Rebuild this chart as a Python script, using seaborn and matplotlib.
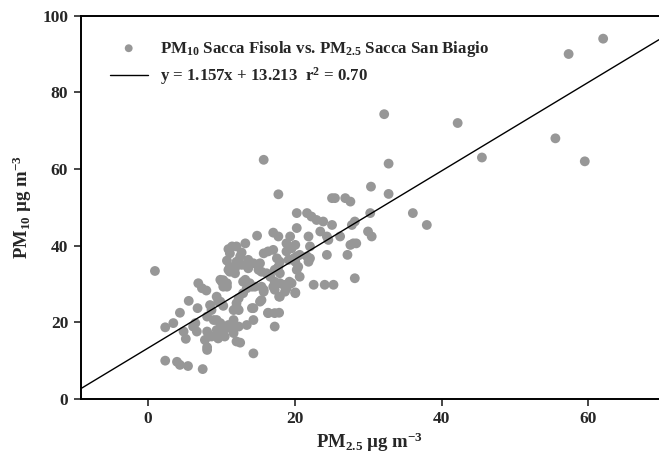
import numpy as np
import pandas as pd
import matplotlib
matplotlib.use("Agg")
import matplotlib.pyplot as plt
import seaborn as sns

# PM2.5 Sacca San Biagio (x) and PM10 Sacca Fisola (y)
pm25 = [
    1.0, 62.0, 57.3, 55.5, 59.5, 45.5, 42.2, 38.0, 36.1, 32.2, 32.8, 32.8, 30.4, 30.3, 30.0, 30.5,
    15.8, 17.8, 25.1, 25.5, 26.9, 27.6, 28.2, 27.8, 28.0, 28.4, 27.2, 28.2, 22.6, 24.1, 25.3,
    20.3, 21.7, 22.3, 23.0, 23.9, 25.1, 20.3, 23.5, 24.4, 24.6, 26.2, 21.9, 19.4, 18.9, 20.1,
    19.6, 22.1, 27.6,
    14.9, 17.1, 17.8, 13.3, 11.0, 11.2, 12.8, 10.8, 11.2, 11.0, 12.1, 12.8, 13.7, 14.4, 15.1,
    15.5, 15.8, 16.4, 17.1, 17.6, 18.0, 17.8, 17.3, 18.9, 20.1, 11.9, 11.2, 11.9, 12.1,
    20.3, 20.7, 19.9, 22.1, 21.9, 24.4, 20.5, 20.3, 20.7, 21.7,
    12.6, 12.4, 13.3, 13.7, 15.3, 16.2, 16.7, 18.0, 19.2, 11.5,
    6.9, 7.4, 8.0, 10.1, 10.8, 10.3, 10.3, 10.8, 13.0, 14.2, 15.5, 17.3, 18.5, 19.3, 18.9,
    18.7, 20.1, 17.9, 17.3, 15.8, 15.5, 16.4, 17.9, 14.4,
    8.5, 8.7, 9.4, 9.9, 12.1, 12.4, 9.6, 10.3, 11.7, 12.1, 12.4, 13.0, 13.5, 15.3, 15.8,
    14.2, 16.4, 17.3, 17.1, 18.0, 18.0, 18.9, 19.6, 20.1, 13.3, 13.9, 14.6, 9.9, 10.5,
    9.4, 9.9, 10.3, 9.9, 9.6, 11.0, 11.5, 12.1, 8.1, 8.1, 8.3, 7.8, 8.1, 6.5, 6.2, 6.7,
    6.8, 5.6, 4.4, 4.9, 5.2, 3.5, 2.4,
    14.4, 12.6, 8.1, 14.4, 17.3,
    9.0, 11.7, 12.4, 11.7, 13.5, 8.7, 9.4, 10.1, 10.8, 10.5,
    2.4, 4.0, 4.4, 5.5, 7.5,
]
pm10 = [
    33.4, 94.0, 90.0, 68.0, 62.0, 63.0, 72.0, 45.4, 48.5, 74.3, 61.4, 53.5, 55.4, 48.5, 43.7, 42.4,
    62.4, 53.4, 52.4, 52.4, 52.4, 51.5, 46.3, 45.4, 40.6, 40.6, 37.6, 31.5, 29.8, 29.8, 29.8,
    48.5, 48.5, 47.6, 46.7, 46.3, 45.4, 44.6, 43.7, 42.4, 41.5, 42.4, 42.4, 42.4, 40.6, 40.2,
    39.3, 39.8, 40.2,
    42.6, 43.4, 42.4, 40.6, 39.1, 38.0, 38.2, 36.1, 34.5, 33.7, 35.8, 35.0, 36.3, 35.4, 33.7,
    33.2, 38.0, 38.5, 38.9, 36.7, 35.8, 34.5, 33.7, 38.5, 35.8, 34.1, 33.2, 32.8, 39.8,
    37.2, 37.6, 36.7, 36.7, 35.8, 37.6, 34.5, 33.7, 31.9, 37.2,
    37.2, 35.4, 35.0, 34.1, 35.4, 32.8, 31.9, 32.8, 36.3, 39.8,
    30.2, 28.9, 28.3, 30.6, 30.2, 29.3, 31.0, 29.3, 30.6, 29.3, 29.3, 30.6, 29.8, 30.6, 28.9,
    28.0, 27.8, 26.7, 28.5, 28.0, 25.8, 22.5, 22.5, 23.7,
    24.5, 23.2, 26.7, 25.4, 25.0, 23.2, 25.4, 24.3, 23.2, 24.1, 26.3, 27.6, 28.9, 25.4, 28.5,
    23.7, 22.4, 22.4, 29.3, 30.2, 26.7, 28.9, 30.2, 27.6, 31.1, 30.2, 29.3, 31.1, 29.8,
    20.6, 19.8, 18.9, 17.6, 15.8, 19.3, 18.5, 15.0, 21.5, 17.6, 16.3, 15.4, 13.5, 19.8, 18.9, 17.6,
    23.7, 25.6, 22.5, 17.6, 15.7, 19.8, 18.7,
    11.9, 14.7, 12.8, 20.6, 18.9,
    20.6, 20.6, 18.9, 17.2, 19.3, 16.3, 18.0, 17.6, 18.5, 16.3,
    10.0, 9.7, 8.9, 8.6, 7.8,
]

# fitted regression shown in the legend
slope = 1.157
intercept = 13.213
r2 = 0.70

series_label = r"PM$_{10}$ Sacca Fisola vs. PM$_{2.5}$ Sacca San Biagio"
fit_label = r"y = 1.157x + 13.213  r$^{2}$ = 0.70"
xlabel = r"PM$_{2.5}$ µg m$^{-3}$"
ylabel = r"PM$_{10}$ µg m$^{-3}$"
xticks = [0, 20, 40, 60]
yticks = [0, 20, 40, 60, 80, 100]

df = pd.DataFrame({"pm25": pm25, "pm10": pm10})

sns.set_theme(style="ticks")
plt.rcParams["font.family"] = ["Liberation Serif", "DejaVu Serif"]
plt.rcParams["font.weight"] = "bold"
plt.rcParams["mathtext.fontset"] = "custom"
plt.rcParams["mathtext.rm"] = "Liberation Serif:bold"
plt.rcParams["mathtext.it"] = "Liberation Serif:italic:bold"
plt.rcParams["mathtext.bf"] = "Liberation Serif:bold"
plt.rcParams["mathtext.default"] = "rm"

fig = plt.figure(figsize=(6.59, 4.61), dpi=100)
ax = fig.add_axes([0.1225, 0.1345, 0.8775, 0.8315])

xmin, xmax = -9.1, 69.6
sns.scatterplot(data=df, x="pm25", y="pm10", ax=ax, color="#979797", s=50,
                edgecolor="none", linewidth=0, label=series_label, zorder=2)
xs = np.array([xmin, xmax])
sns.lineplot(x=xs, y=slope * xs + intercept, ax=ax, color="black", linewidth=1.0,
             label=fit_label, zorder=3)

ax.set_xlim(xmin, xmax)
ax.set_ylim(0, 100)
ax.set_xticks(xticks)
ax.set_yticks(yticks)
ax.tick_params(axis="both", direction="out", length=5, width=1.2, labelsize=12.5, pad=4)
for lab in ax.get_xticklabels() + ax.get_yticklabels():
    lab.set_fontweight("bold")
for side in ["left", "bottom", "top"]:
    ax.spines[side].set_linewidth(1.4)
    ax.spines[side].set_color("black")
ax.spines["right"].set_visible(False)

ax.set_xlabel(xlabel, fontsize=13.5, fontweight="bold", labelpad=2)
ax.set_ylabel(ylabel, fontsize=13.5, fontweight="bold", labelpad=6)

leg = ax.legend(loc="upper left", bbox_to_anchor=(0.05, 0.94), frameon=False,
                fontsize=12.2, handlelength=2.25, handletextpad=0.7, labelspacing=0.4,
                borderaxespad=0, borderpad=0, markerscale=0.8)
for t in leg.get_texts():
    t.set_fontweight("bold")

fig.savefig("out.png", dpi=100)
